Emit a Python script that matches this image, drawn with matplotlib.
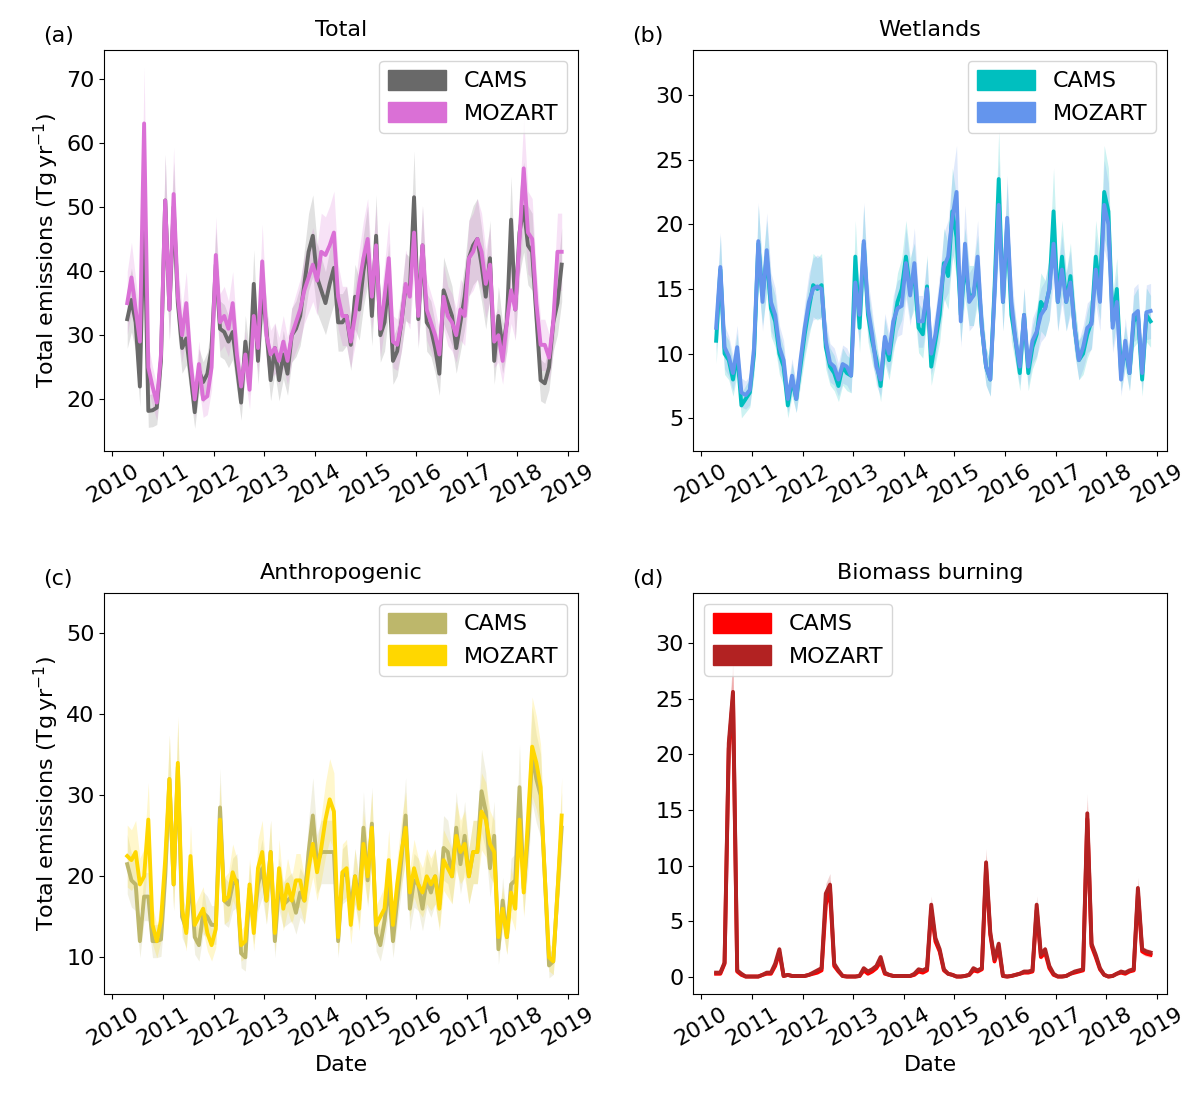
import matplotlib.pyplot as plt
import numpy as np
from matplotlib.patches import Patch

# monthly values, Apr 2010 .. Nov 2018
months = np.arange(104)
t = 2010 + 3.5 / 12 + months / 12.0

total_cams = [32.5, 35.5, 32, 22, 50, 18.2, 18.3, 18.7, 26,
              51, 34, 50, 35, 28, 29.5, 24, 18, 24.5, 22.7, 24, 28,
              41, 31, 30.5, 29, 30.5, 25, 19.5, 29, 24, 38, 26, 37,
              31, 23, 28, 23, 27, 24, 30, 31, 33, 38, 43, 45.5,
              39, 37, 35, 38, 40.5, 32, 32, 33, 28.5, 36, 34, 40,
              44, 33, 45.5, 30, 32, 39, 26, 27.5, 32, 37.5, 37, 51.5,
              32.5, 44, 32, 31, 28, 24, 37, 35, 33, 28, 32, 36,
              42, 44, 45, 41, 36, 42, 26, 33, 28, 32, 48, 34,
              46, 50, 44, 43, 33, 23, 22.5, 25, 32, 35, 41]
total_moz = [35, 39, 34, 29, 63, 25, 22, 19.5, 27,
             51, 34, 52, 36, 30, 35, 26, 20, 25.5, 20, 20.5, 25,
             42.5, 32, 33, 31, 35, 27, 22, 27, 21.5, 33, 28, 41.5,
             30, 27, 28, 26, 29, 26, 30, 32, 34, 37, 39, 41,
             38.5, 43, 42.5, 44, 46, 36, 33, 33, 29, 33, 38, 42,
             45, 36, 44, 31, 36, 42, 29, 28.5, 32, 38, 36, 46,
             33, 44, 34, 32, 30, 27, 36, 33, 32, 30, 34, 33,
             42, 43, 45, 43, 38, 41, 29, 30, 26, 32, 37, 34,
             45, 56, 46, 45, 35, 28.5, 28.5, 26.5, 32, 43, 43]

wet_cams = [11, 16.5, 10, 9.5, 8, 10, 6, 6.5, 7,
            10, 18.5, 14.5, 17.5, 13.5, 12.5, 10, 9, 6, 8, 6.5, 9,
            11.5, 13.5, 15.3, 15, 15.3, 10.5, 9, 8.5, 7.5, 9, 8.5, 8.3,
            17.5, 12, 18.5, 13, 11, 9.5, 7.5, 11, 9.5, 12, 14, 15,
            17.5, 15, 16, 12, 11.5, 15.2, 9, 11, 13, 17, 16, 21,
            19, 13, 17, 14.5, 14.5, 16.5, 12, 9, 8, 15, 23.5, 14,
            20, 13, 11, 8.5, 13, 8.5, 10.5, 11.5, 14, 13.5, 15, 21,
            14, 17.5, 14, 16, 12, 9.5, 10, 11.5, 12.5, 17.5, 15, 22.5,
            21, 12.5, 15, 8.5, 10.5, 8.5, 12.5, 13, 8, 13, 12.5]
wet_moz = [12, 16.7, 10.5, 9.8, 8.5, 10.5, 7, 6.8, 7.2,
           10.5, 18.7, 14, 18, 14, 13, 10.5, 9.5, 6.5, 8.3, 6.5, 9.5,
           12, 14, 15, 15.2, 15, 11, 9.3, 9, 8, 9.2, 9, 8.3,
           15.5, 13, 18.7, 13.5, 11.5, 9, 8, 11.3, 10, 12.5, 13.5, 13.7,
           17, 14.5, 17, 12.5, 12.5, 15, 10, 11.5, 14, 16.7, 17.5, 20.5,
           22.5, 12.5, 18.5, 14, 14.5, 17.5, 12, 9, 8, 14.5, 21.5, 14,
           20.5, 14, 11, 9, 13, 9, 11, 11.7, 13, 13.5, 15, 18.5,
           14, 16.5, 14, 15.5, 12, 9.5, 10.5, 12, 12.3, 16.5, 14, 21.5,
           20, 12, 14, 8, 11, 8.5, 13, 13.3, 8.5, 13.2, 13.3]

anth_cams = [21.5, 19.5, 19, 12, 17.5, 17.5, 12, 12, 12.2,
             20, 32, 19, 33.5, 15, 13.5, 20, 12.5, 11.5, 15.5, 15, 14,
             14, 28.5, 17, 16.5, 19, 19.5, 10.5, 10, 18.5, 14, 19, 21,
             17, 23, 12, 19, 16.5, 17, 17.5, 15.5, 18, 17, 23, 27.5,
             21.5, 23, 23, 23, 23, 12, 20, 20.5, 16, 20, 17, 26,
             19.5, 26.5, 13, 11.5, 14.5, 19, 12, 17, 22, 27.5, 16, 19.5,
             19, 16, 19.5, 18, 20, 16.5, 23.5, 23, 20, 26, 21.5, 25,
             20, 23, 23, 30.5, 28, 21, 25, 11, 17, 12.5, 19, 19.5,
             31, 18.5, 25, 35, 32, 30, 20, 9, 9.5, 18, 26]
anth_moz = [22.5, 22, 23, 19, 20, 27, 14, 12, 14.5,
            22, 32, 19, 34, 16, 13, 22.5, 14, 15, 16, 13, 11.5,
            13.5, 27, 17, 17.5, 20.5, 19, 11.5, 12, 19, 13, 21, 23,
            17, 23, 13, 21, 16, 19, 17, 19.5, 19.5, 17, 21, 24,
            20.5, 23.5, 27, 29.5, 28, 12.5, 20.5, 21, 14, 20, 16, 24,
            20, 26, 14, 15, 16, 22, 14, 19, 23, 26, 18, 21,
            19, 18, 20, 19, 20, 16, 22, 21, 20, 25, 23, 24,
            20, 23, 23, 28, 27, 24, 23, 12.5, 16, 12.5, 18, 16,
            27, 18, 27, 36, 34, 31, 20, 10, 9.5, 18, 27.5]

bb_cams = [0.3, 0.3, 1.2, 20.5, 25, 0.5, 0.2, 0.05, 0.05,
           0.05, 0.05, 0.2, 0.3, 0.3, 1.0, 2.2, 0.1, 0.2, 0.1, 0.1, 0.1,
           0.1, 0.2, 0.3, 0.4, 0.6, 6.5, 7.8, 1.0, 0.5, 0.1, 0.05, 0.05,
           0.05, 0.1, 0.6, 0.3, 0.5, 0.8, 1.4, 0.3, 0.2, 0.1, 0.1, 0.1,
           0.1, 0.1, 0.2, 0.5, 0.4, 0.6, 6.0, 3.2, 2.3, 0.6, 0.3, 0.2,
           0.05, 0.05, 0.1, 0.2, 0.6, 0.5, 0.7, 9.8, 3.8, 1.4, 2.6, 0.1,
           0.05, 0.1, 0.2, 0.3, 0.4, 0.4, 0.5, 6.0, 1.8, 2.2, 0.8, 0.2,
           0.05, 0.05, 0.1, 0.3, 0.4, 0.5, 0.6, 14.2, 2.8, 1.8, 0.7, 0.2,
           0.05, 0.1, 0.3, 0.4, 0.3, 0.5, 0.6, 7.5, 2.3, 2.1, 2.0]
bb_moz = [0.4, 0.4, 1.3, 21, 25.6, 0.6, 0.3, 0.05, 0.05,
          0.05, 0.05, 0.2, 0.4, 0.4, 1.2, 2.5, 0.1, 0.2, 0.1, 0.1, 0.1,
          0.1, 0.2, 0.4, 0.6, 0.8, 7.5, 8.3, 1.2, 0.6, 0.1, 0.05, 0.05,
          0.05, 0.1, 0.8, 0.5, 0.7, 1.0, 1.8, 0.4, 0.2, 0.1, 0.1, 0.1,
          0.1, 0.1, 0.3, 0.7, 0.6, 0.8, 6.5, 3.5, 2.5, 0.7, 0.3, 0.2,
          0.05, 0.05, 0.1, 0.2, 0.8, 0.6, 0.8, 10.3, 4.0, 1.6, 3.0, 0.1,
          0.05, 0.1, 0.2, 0.3, 0.5, 0.5, 0.6, 6.5, 2.0, 2.5, 1.0, 0.3,
          0.05, 0.05, 0.1, 0.3, 0.5, 0.6, 0.7, 14.7, 3.0, 2.0, 0.8, 0.2,
          0.05, 0.1, 0.3, 0.5, 0.4, 0.6, 0.7, 8.0, 2.5, 2.3, 2.2]

panels = [
    ("(a)", "Total", total_cams, total_moz, "dimgray", "orchid", (12, 74.5), [20, 30, 40, 50, 60, 70], "upper right", 0.14),
    ("(b)", "Wetlands", wet_cams, wet_moz, "c", "cornflowerblue", (2.5, 33.5), [5, 10, 15, 20, 25, 30], "upper right", 0.16),
    ("(c)", "Anthropogenic", anth_cams, anth_moz, "darkkhaki", "gold", (5.5, 55), [10, 20, 30, 40, 50], "upper right", 0.17),
    ("(d)", "Biomass burning", bb_cams, bb_moz, "red", "firebrick", (-1.5, 34.5), [0, 5, 10, 15, 20, 25, 30], "upper left", 0.12),
]

plt.rcParams["font.size"] = 16
fig, axes = plt.subplots(2, 2, figsize=(11.86, 11.03), dpi=100)
fig.subplots_adjust(left=0.088, right=0.984, top=0.955, bottom=0.099, wspace=0.243, hspace=0.354)

for ax, (lab, title, cams, moz, c1, c2, ylim, yticks, loc, frac) in zip(axes.flat, panels):
    cams = np.array(cams)
    moz = np.array(moz)
    for vals, col in [(cams, c1), (moz, c2)]:
        ax.fill_between(t, vals * (1 - frac), vals * (1 + frac), color=col, alpha=0.2, lw=0)
        ax.plot(t, vals, color=col, lw=2.8)
    ax.set_xlim(2009.84, 2019.2)
    ax.set_ylim(*ylim)
    ax.set_yticks(yticks)
    ax.set_xticks(range(2010, 2020))
    ax.set_xticklabels([str(y) for y in range(2010, 2020)], rotation=30)
    ax.set_title(title, fontsize=16, pad=10)
    ax.text(-0.13, 1.01, lab, transform=ax.transAxes, fontsize=16, va="bottom")
    handles = [Patch(color=c1, label="CAMS"), Patch(color=c2, label="MOZART")]
    ax.legend(handles=handles, loc=loc, fontsize=16, handlelength=2.6, handleheight=1.0)

axes[0, 0].set_ylabel(r"Total emissions (Tg$\,$yr$^{-1}$)")
axes[1, 0].set_ylabel(r"Total emissions (Tg$\,$yr$^{-1}$)")
axes[1, 0].set_xlabel("Date")
axes[1, 1].set_xlabel("Date")

fig.savefig("out.png")
